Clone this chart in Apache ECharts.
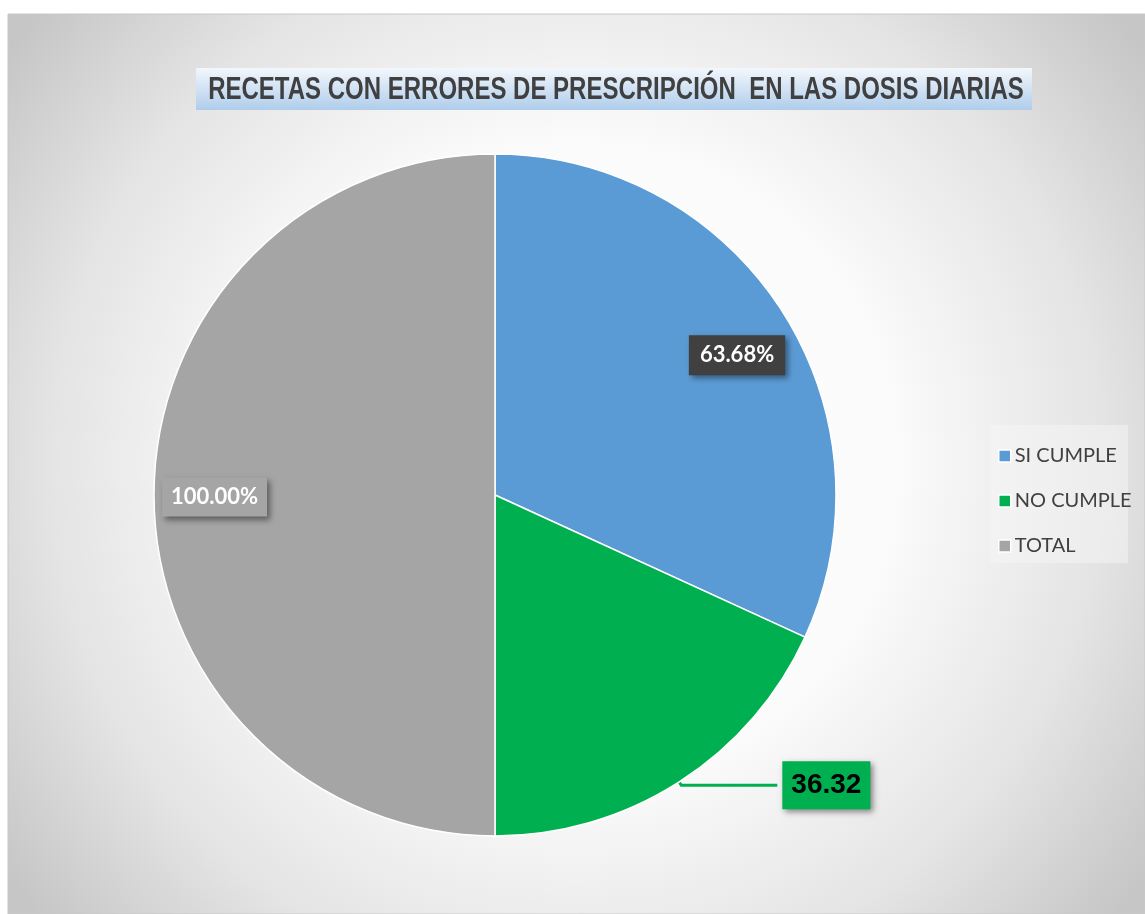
<!DOCTYPE html>
<html>
<head>
<meta charset="utf-8">
<style>html,body{margin:0;padding:0;background:#fff;}#c{width:1145px;height:914px;}</style>
<script src="https://cdn.jsdelivr.net/npm/echarts@6/dist/echarts.min.js"></script>
</head>
<body>
<div id="c"></div>
<script>
var categories = ['SI CUMPLE', 'NO CUMPLE', 'TOTAL'];
var values = [63.68, 36.32, 100.00];
var labelTexts = ['63.68%', '36.32', '100.00%'];
var colors = ['#5b9bd5', '#00b050', '#a5a5a5'];
var titleText = 'RECETAS CON ERRORES DE PRESCRIPCIÓN  EN LAS DOSIS DIARIAS';

var chart = echarts.init(document.getElementById('c'));
var labelCfg = [
  { position: 'inside', offset: [96, -46], backgroundColor: '#404040', color: '#fff',
    fontFamily: 'Lato, "Open Sans", sans-serif', fontWeight: 'bold', fontSize: 22,
    padding: [10, 11, 8, 11], shadowBlur: 6, shadowColor: 'rgba(0,0,0,0.45)', shadowOffsetX: 3, shadowOffsetY: 3 },
  { position: 'outside', backgroundColor: '#00b050', color: '#000',
    fontFamily: '"Liberation Sans", Arial, sans-serif', fontWeight: 'bold', fontSize: 28,
    padding: [11, 9, 9, 9], shadowBlur: 6, shadowColor: 'rgba(0,0,0,0.45)', shadowOffsetX: 3, shadowOffsetY: 3 },
  { position: 'inside', offset: [-107, 2], backgroundColor: '#a5a5a5', color: '#fff',
    fontFamily: 'Lato, "Open Sans", sans-serif', fontWeight: 'bold', fontSize: 22,
    padding: [9, 9, 8, 9], shadowBlur: 6, shadowColor: 'rgba(0,0,0,0.45)', shadowOffsetX: 3, shadowOffsetY: 3 }
];
var data = categories.map(function (c, i) {
  var lc = Object.assign({ show: true, formatter: labelTexts[i] }, labelCfg[i]);
  var d = { name: c, value: values[i], itemStyle: { color: colors[i] }, label: lc };
  if (i === 1) {
    d.labelLine = { show: true, length: 4, length2: 96, smooth: false,
      lineStyle: { color: '#00b050', width: 3 } };
  }
  return d;
});

chart.setOption({
  animation: false,
  graphic: [
    { type: 'rect', shape: { x: 8, y: 14, width: 1137, height: 900 }, z: -10,
      style: { fill: new echarts.graphic.RadialGradient(0.5, 0.5, 0.78, [
        { offset: 0, color: '#ffffff' }, { offset: 0.45, color: '#fbfbfb' },
        { offset: 0.75, color: '#e4e4e4' }, { offset: 1, color: '#c6c6c6' }]),
        stroke: '#c8c8c8', lineWidth: 1 } },
    { type: 'rect', shape: { x: 196, y: 68, width: 836, height: 42 }, z: -5,
      style: { fill: new echarts.graphic.LinearGradient(0, 0, 0, 1, [
        { offset: 0, color: '#f3f7fc' }, { offset: 1, color: '#afcdeb' }]) } },
    { type: 'text', x: 616, y: 90, scaleX: 0.75, z: 5,
      style: { text: titleText, align: 'center', verticalAlign: 'middle',
        font: 'bold 32px "Liberation Sans", Arial, sans-serif', fill: '#404040' } },
    { type: 'rect', shape: { x: 990, y: 425, width: 138, height: 138 }, z: -5,
      style: { fill: 'rgba(245,245,245,0.5)' } }
  ],
  legend: {
    orient: 'vertical', left: 993, top: 441, itemWidth: 12, itemHeight: 12, itemGap: 25,
    icon: 'rect', data: categories,
    itemStyle: { borderColor: '#fff', borderWidth: 1.5 },
    textStyle: { fontFamily: 'Lato, "Open Sans", sans-serif', fontSize: 20, color: '#404040', padding: [0, 0, 0, -1] }
  },
  series: [{
    type: 'pie', center: [495, 495], radius: 341, startAngle: 90, clockwise: true,
    avoidLabelOverlap: false,
    itemStyle: { borderColor: '#fff', borderWidth: 1.5 },
    emphasis: { disabled: true },
    data: data
  }]
});
</script>
</body>
</html>
